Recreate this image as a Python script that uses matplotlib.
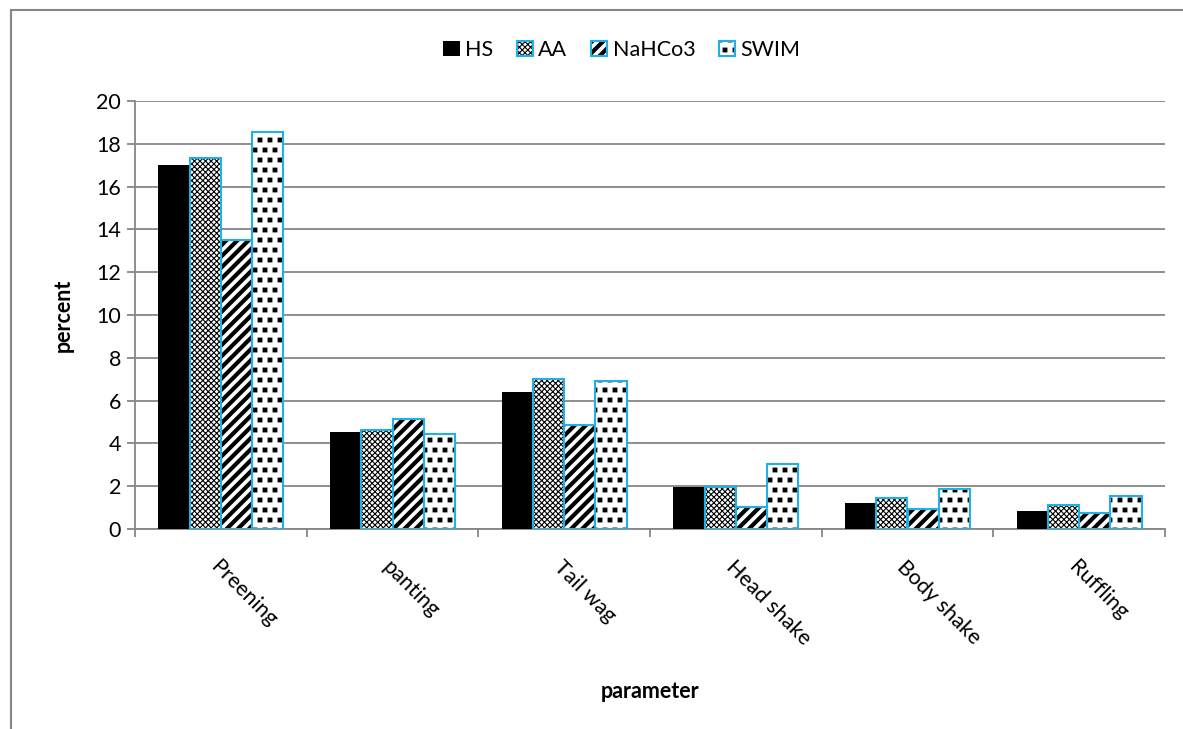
import matplotlib
matplotlib.use("Agg")
import matplotlib.pyplot as plt
import matplotlib.hatch as mhatch
import numpy as np
from matplotlib.lines import Line2D
from matplotlib.patches import Patch, Rectangle
from matplotlib.path import Path
from matplotlib.legend_handler import HandlerBase

categories = ["Preening", "panting", "Tail wag", "Head shake", "Body shake", "Ruffling"]
series_names = ["HS", "AA", "NaHCo3", "SWIM"]
hs = [17.0, 4.55, 6.42, 1.97, 1.2, 0.84]
aa = [17.33, 4.64, 7.03, 1.97, 1.45, 1.13]
nahco3 = [13.5, 5.15, 4.87, 1.03, 0.95, 0.75]
swim = [18.55, 4.45, 6.93, 3.04, 1.88, 1.53]
yticks = [0, 2, 4, 6, 8, 10, 12, 14, 16, 18, 20]


# texture: small filled squares for the '.' hatch (Excel-like "large confetti")
class FilledSquares(mhatch.Shapes):
    size = 0.2
    filled = True

    def __init__(self, hatch, density):
        n = int(hatch.count('.') * density * 0.85)
        self.num_rows = n - (n % 2)
        sq = Path([(-1, -1), (1, -1), (1, 1), (-1, 1), (-1, -1)],
                  [Path.MOVETO, Path.LINETO, Path.LINETO, Path.LINETO, Path.CLOSEPOLY])
        self.shape_vertices = sq.vertices
        self.shape_codes = sq.codes
        super().__init__(hatch, density)


mhatch._hatch_types = [FilledSquares if t is mhatch.SmallFilledCircles else t
                       for t in mhatch._hatch_types]

plt.rcParams['font.family'] = ['Lato', 'DejaVu Sans']
W, H = 1183, 729
fig = plt.figure(figsize=(W/100, H/100), dpi=100)
ax = fig.add_axes([135/W, 1-529/H, (1165-135)/W, (529-101)/H])

blue = '#1FB0E6'
grey = '#868686'
FS = 15.5
series = [hs, aa, nahco3, swim]
styles = [
    dict(hatch=None, hlw=1.0),
    dict(hatch='xxxxxx', hlw=0.8),
    dict(hatch='///', hlw=3.0),
    dict(hatch='..', hlw=0.6),
]
x = np.arange(len(categories))
bw = 0.182
offsets = (np.arange(4) - 1.5) * bw
for i, (vals, st) in enumerate(zip(series, styles)):
    with plt.rc_context({'hatch.linewidth': st['hlw'], 'hatch.color': 'black'}):
        if st['hatch'] is None:
            ax.bar(x + offsets[i], vals, bw, color='black', edgecolor='black', linewidth=0, zorder=3)
        else:
            ax.bar(x + offsets[i], vals, bw, color='white', edgecolor='black',
                   linewidth=0, hatch=st['hatch'], zorder=3)
            ax.bar(x + offsets[i], vals, bw, fill=False, edgecolor=blue, linewidth=1.5, zorder=4)


class OverlayHandler(HandlerBase):
    def __init__(self, st):
        super().__init__()
        self.st = st

    def create_artists(self, legend, orig_handle, xdescent, ydescent, width, height,
                       fontsize, trans):
        st = self.st
        with plt.rc_context({'hatch.linewidth': st['hlw'], 'hatch.color': 'black'}):
            if st['hatch'] is None:
                return [Rectangle((-xdescent, -ydescent), width, height, facecolor='black',
                                  edgecolor='black', linewidth=0, transform=trans)]
            p1 = Rectangle((-xdescent, -ydescent), width, height, facecolor='white',
                           edgecolor='black', linewidth=0, hatch=st['hatch'], transform=trans)
            p2 = Rectangle((-xdescent, -ydescent), width, height, fill=False,
                           edgecolor=blue, linewidth=1.5, transform=trans)
        return [p1, p2]


ax.set_ylim(0, 20)
ax.set_xlim(-0.5, len(categories) - 0.5)
ax.set_yticks(yticks)
ax.set_yticklabels([str(t) for t in yticks], fontsize=FS)
ax.yaxis.grid(True, color=grey, linewidth=1.3, zorder=0)
ax.set_axisbelow(True)
for s in ['top', 'right']:
    ax.spines[s].set_visible(False)
for s in ['left', 'bottom']:
    ax.spines[s].set_color(grey)
    ax.spines[s].set_linewidth(1.3)
ax.tick_params(axis='y', length=6, color=grey, width=1.3, pad=4)
ax.set_xticks(np.arange(len(categories) + 1) - 0.5)
ax.set_xticklabels([])
ax.tick_params(axis='x', which='major', length=6, color=grey, width=1.3)
ax.set_xticks(x, minor=True)
ax.set_xticklabels(categories, minor=True, fontsize=FS, rotation=-45,
                   ha='left', va='top', rotation_mode='anchor')
ax.tick_params(axis='x', which='minor', length=0, pad=20)

ax.set_ylabel('percent', fontsize=FS, fontweight='bold', labelpad=16)
fig.text(0.5 * (135 + 1165) / W, 1 - 692 / H, 'parameter', fontsize=FS, fontweight='bold',
         ha='center', va='center')

handles = [Patch(label=n) for n in series_names]
handler_map = {h: OverlayHandler(st) for h, st in zip(handles, styles)}
leg = fig.legend(handles, series_names, loc='center', bbox_to_anchor=(622 / W, 1 - 50 / H),
                 ncol=4, frameon=False, fontsize=FS, handlelength=0.75, handleheight=0.75,
                 handletextpad=0.25, columnspacing=1.1, handler_map=handler_map)

# outer chart border (left and top)
fig.add_artist(Line2D([10.5 / W, 10.5 / W], [0, 1 - 10 / H], color=grey, linewidth=1.5,
                      transform=fig.transFigure))
fig.add_artist(Line2D([10.5 / W, 1], [1 - 10 / H, 1 - 10 / H], color=grey, linewidth=1.5,
                      transform=fig.transFigure))

fig.savefig('out.png', dpi=100)
